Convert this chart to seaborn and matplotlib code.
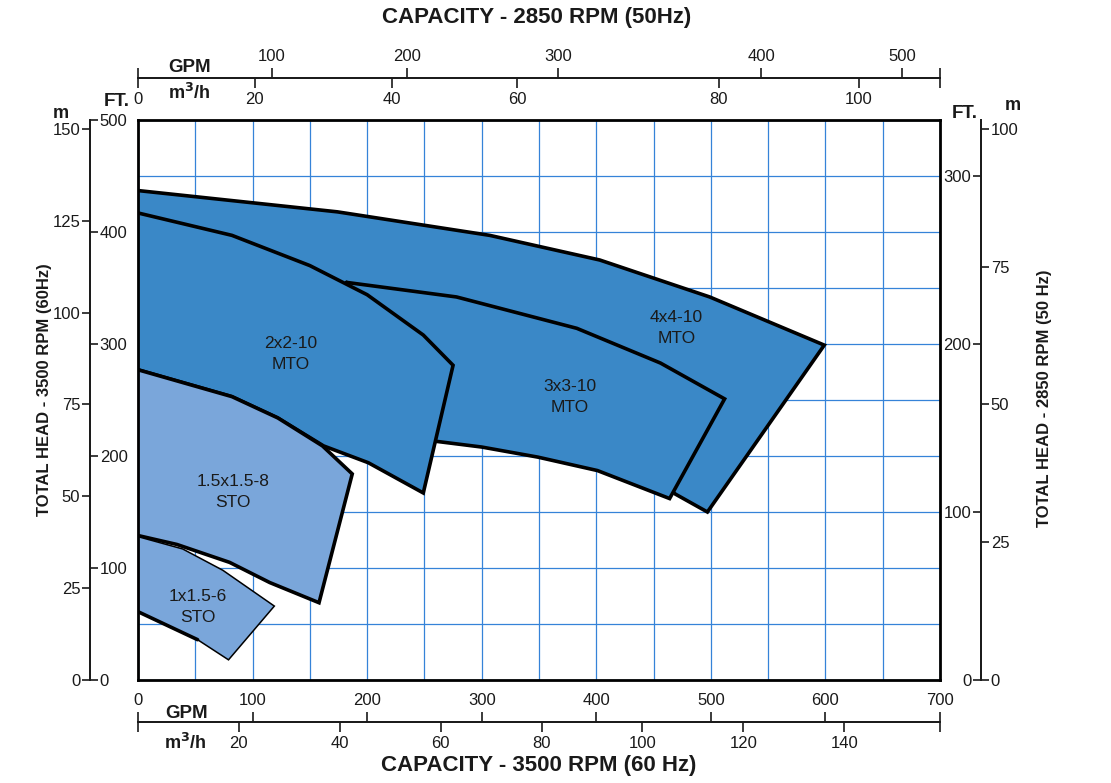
import numpy as np
import matplotlib
matplotlib.use("Agg")
import matplotlib.pyplot as plt
import seaborn as sns

# operating ranges: flow in GPM @ 3500 rpm, head in ft @ 3500 rpm
# (outline points go clockwise from the upper-left corner)
r4x4_gpm = [0, 174, 307, 403, 499, 599, 497, 469, 403, 255, 0]
r4x4_ft = [437, 418, 397, 375, 342, 299, 150, 166, 232, 241, 339]

r3x3_gpm = [182, 278, 383, 456, 512, 464, 401, 349, 300, 261, 246]
r3x3_ft = [355, 342, 314, 283, 251, 162, 187, 199, 208, 213, 214]

r2x2_gpm = [0, 82, 150, 200, 249, 275, 249, 201, 162, 122, 82, 0]
r2x2_ft = [417, 397, 370, 344, 308, 281, 167, 194, 209, 234, 253, 277]

r15_gpm = [0, 82, 122, 161, 187, 158, 115, 80, 34, 0]
r15_ft = [277, 253, 234, 209, 184, 69, 87, 105, 121, 129]

r1_gpm = [0, 39, 74, 119, 79, 52, 0]
r1_ft = [128, 117, 98, 66, 18, 36, 61]

region_names = ["4x4-10\nMTO", "3x3-10\nMTO", "2x2-10\nMTO", "1.5x1.5-8\nSTO", "1x1.5-6\nSTO"]
region_label_gpm = [470, 377, 133, 83, 52]
region_label_ft = [314, 253, 291, 168, 65]

# axis ticks
top_gpm_labels = ["", "100", "200", "300", "400", "500", ""]
top_gpm_at = [0, 117, 235, 367, 544, 667, 700]       # where they sit on the 60 Hz scale
top_m3h_labels = ["0", "20", "40", "60", "80", "100", ""]
top_m3h_at = [0, 102, 222, 331, 507, 629, 700]
bot_gpm = [0, 100, 200, 300, 400, 500, 600, 700]
bot_m3h = [20, 40, 60, 80, 100, 120, 140]
left_ft = [0, 100, 200, 300, 400, 500]
left_m = [0, 25, 50, 75, 100, 125, 150]
right_ft = [0, 100, 200, 300]
right_m = [0, 25, 50, 75, 100]

GPM_PER_M3H = 4.403
FT_PER_M = 3.28084
HEAD_RATIO = 1.5   # 60 Hz head / 50 Hz head as drawn on the chart

DARK = "#3a88c7"
LIGHT = "#7aa6da"
GRID = "#3583d8"
INK = "#1a1a1a"

sns.set_style("white")
plt.rcParams["font.family"] = ["Liberation Sans", "DejaVu Sans"]

W, H = 1111, 783
fig = plt.figure(figsize=(W / 100, H / 100), dpi=100)
ax = fig.add_axes([138 / W, 103 / H, 802 / W, 560 / H])
ax.set_xlim(0, 700)
ax.set_ylim(0, 500)
ax.set_xticks(np.arange(0, 701, 50))
ax.set_yticks(np.arange(0, 501, 50))
ax.set_axisbelow(True)
ax.grid(True, color=GRID, lw=0.9)
ax.tick_params(length=0, labelbottom=False, labelleft=False)
for s in ax.spines.values():
    s.set_visible(True)
    s.set_color("black")
    s.set_linewidth(2)
    s.set_zorder(40)

regions = [
    (r4x4_gpm, r4x4_ft, DARK, 2.6),
    (r3x3_gpm, r3x3_ft, DARK, 2.6),
    (r2x2_gpm, r2x2_ft, DARK, 2.6),
    (r15_gpm, r15_ft, LIGHT, 2.6),
    (r1_gpm, r1_ft, LIGHT, 1.1),
]
for i, (xs, ys, col, lw) in enumerate(regions):
    z = 3 + 2 * i
    ax.fill(xs, ys, color=col, lw=0, zorder=z)
    # the part lying on the left frame is not outlined
    if xs[0] == 0 and xs[-1] == 0:
        lx, ly = list(xs), list(ys)
    else:
        lx, ly = list(xs) + [xs[0]], list(ys) + [ys[0]]
    sns.lineplot(x=lx, y=ly, sort=False, estimator=None, color="black",
                 lw=lw, ax=ax, zorder=z + 1, solid_joinstyle="miter")

# heavier lower-left edge of the 1x1.5-6
sns.lineplot(x=r1_gpm[-2:], y=r1_ft[-2:], sort=False, estimator=None,
             color="black", lw=2.6, ax=ax, zorder=20)

for name, gx, gy in zip(region_names, region_label_gpm, region_label_ft):
    ax.text(gx, gy, name, ha="center", va="center", fontsize=12.5,
            color=INK, zorder=30, linespacing=1.5)

tick_kw = dict(labelsize=12, labelcolor=INK, color=INK, width=1.2)

# ---- top scale (50 Hz capacity)
top_y = (680 - 78) / 560
sx1 = ax.secondary_xaxis(top_y)
sx1.set_alignment("top")
sx1.set_xticks(top_gpm_at, top_gpm_labels)
sx1.tick_params(direction="out", length=7, pad=3, **tick_kw)
sx2 = ax.secondary_xaxis(top_y)
sx2.set_alignment("bottom")
sx2.set_xticks(top_m3h_at, top_m3h_labels)
sx2.tick_params(direction="out", length=7, pad=3, **tick_kw)

# ---- bottom scale (60 Hz capacity)
bot_y = (680 - 722) / 560
sx3 = ax.secondary_xaxis(bot_y)
sx3.set_alignment("top")
sx3.set_xticks(bot_gpm, [str(v) for v in bot_gpm])
sx3.tick_params(direction="out", length=7, pad=3, **tick_kw)
sx4 = ax.secondary_xaxis(bot_y, functions=(lambda g: g / GPM_PER_M3H,
                                            lambda q: q * GPM_PER_M3H))
sx4.set_alignment("bottom")
sx4.set_xticks([0] + bot_m3h + [700 / GPM_PER_M3H],
               [""] + [str(v) for v in bot_m3h] + [""])
sx4.tick_params(direction="out", length=7, pad=3, **tick_kw)

# ---- left head scales (60 Hz)
left_x = (90 - 138) / 802
sy1 = ax.secondary_yaxis(left_x)
sy1.set_alignment("right")
sy1.set_yticks(left_ft, [str(v) for v in left_ft])
sy1.tick_params(direction="out", length=6, pad=1, **tick_kw)
sy2 = ax.secondary_yaxis(left_x, functions=(lambda f: f / FT_PER_M,
                                             lambda m: m * FT_PER_M))
sy2.set_alignment("left")
sy2.set_yticks(left_m, [str(v) for v in left_m])
sy2.tick_params(direction="out", length=6, pad=1, **tick_kw)

# ---- right head scales (50 Hz)
right_x = (981 - 138) / 802
sy3 = ax.secondary_yaxis(right_x, functions=(lambda f: f / HEAD_RATIO,
                                              lambda f: f * HEAD_RATIO))
sy3.set_alignment("left")
sy3.set_yticks(right_ft, [str(v) for v in right_ft])
sy3.tick_params(direction="out", length=6, pad=1, **tick_kw)
sy4 = ax.secondary_yaxis(right_x, functions=(lambda f: f / HEAD_RATIO / FT_PER_M,
                                              lambda m: m * FT_PER_M * HEAD_RATIO))
sy4.set_alignment("right")
sy4.set_yticks(right_m, [str(v) for v in right_m])
sy4.tick_params(direction="out", length=6, pad=1, **tick_kw)

for sec in (sx1, sx2, sx3, sx4, sy1, sy2, sy3, sy4):
    for s in sec.spines.values():
        s.set_color(INK)
        s.set_linewidth(1.3)


def ftext(px, py, s, **kw):
    fig.text(px / W, 1 - py / H, s, color=INK, **kw)


ftext(537, 18, "CAPACITY - 2850 RPM (50Hz)", ha="center", va="center",
      fontsize=16, fontweight="bold")
ftext(539, 766, "CAPACITY - 3500 RPM (60 Hz)", ha="center", va="center",
      fontsize=16, fontweight="bold")
ftext(190, 67, "GPM", ha="center", va="center", fontsize=13.5, fontweight="bold")
ftext(189, 93, "m$^\\mathbf{3}$/h", ha="center", va="center", fontsize=13, fontweight="bold")
ftext(187, 713, "GPM", ha="center", va="center", fontsize=13.5, fontweight="bold")
ftext(185, 743, "m$^\\mathbf{3}$/h", ha="center", va="center", fontsize=13, fontweight="bold")
ftext(117, 102, "FT.", ha="center", va="center", fontsize=13.5, fontweight="bold")
ftext(61, 113, "m", ha="center", va="center", fontsize=13, fontweight="bold")
ftext(965, 114, "FT.", ha="center", va="center", fontsize=13.5, fontweight="bold")
ftext(1013, 105, "m", ha="center", va="center", fontsize=13, fontweight="bold")
ftext(45, 390, "TOTAL HEAD - 3500 RPM (60Hz)", ha="center", va="center",
      rotation=90, fontsize=12, fontweight="bold")
ftext(1045, 398, "TOTAL HEAD - 2850 RPM (50 Hz)", ha="center", va="center",
      rotation=90, fontsize=12, fontweight="bold")

fig.savefig("out.png", dpi=100)
